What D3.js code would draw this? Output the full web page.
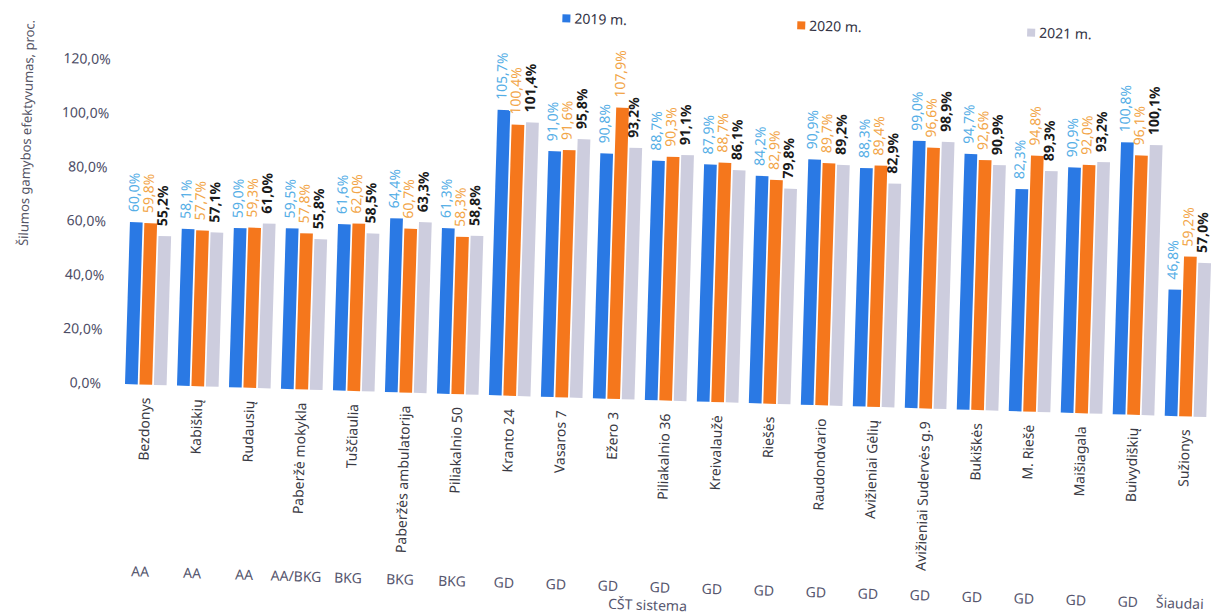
<!DOCTYPE html>
<html>
<head>
<meta charset="utf-8">
<script src="https://cdn.jsdelivr.net/npm/d3@7/dist/d3.min.js"></script>
<style>
  html, body { margin: 0; padding: 0; background: #ffffff; }
  svg { display: block; font-family: "Noto Sans", "Open Sans", sans-serif; }
</style>
</head>
<body>
<svg id="chart" width="1212" height="614"></svg>
<script>
const categories = ["Bezdonys","Kabiškių","Rudausių","Paberžė mokykla","Tuščiaulia","Paberžės ambulatorija","Piliakalnio 50","Kranto 24","Vasaros 7","Ežero 3","Piliakalnio 36","Kreivalaužė","Riešės","Raudondvario","Avižieniai Gėlių","Avižieniai Sudervės g.9","Bukiškės","M. Riešė","Maišiagala","Buivydiškių","Sužionys"];
const systems = ["AA","AA","AA","AA/BKG","BKG","BKG","BKG","GD","GD","GD","GD","GD","GD","GD","GD","GD","GD","GD","GD","GD","Šiaudai"];
const years = ["2019 m.","2020 m.","2021 m."];
const values2019 = [60.0,58.1,59.0,59.5,61.6,64.4,61.3,105.7,91.0,90.8,88.7,87.9,84.2,90.9,88.3,99.0,94.7,82.3,90.9,100.8,46.8];
const values2020 = [59.8,57.7,59.3,57.8,62.0,60.7,58.3,100.4,91.6,107.9,90.3,88.7,82.9,89.7,89.4,96.6,92.6,94.8,92.0,96.1,59.2];
const values2021 = [55.2,57.1,61.0,55.8,58.5,63.3,58.8,101.4,95.8,93.2,91.1,86.1,79.8,89.2,82.9,98.9,90.9,89.3,93.2,100.1,57.0];
const yTicks = [0,20,40,60,80,100,120];
const yTitle = "Šilumos gamybos efektyvumas, proc.";
const xTitle = "CŠT sistema";

const barColors = ["#2a79e4","#f5771c","#cdcdde"];
const labelColors = ["#55aee6","#f2a548","#1a1a1a"];
const series = [values2019, values2020, values2021];

const svg = d3.select("#chart");
// scanned original is slightly rotated clockwise
const g = svg.append("g").attr("transform", "rotate(1.75,125,384)");

const fmt = v => d3.format(".1f")(v).replace(".", ",") + "%";

const y = d3.scaleLinear().domain([0, 120]).range([384, 60]);
const x0 = d3.scaleBand().domain(categories).range([119.8, 1212]).paddingInner(0.2).paddingOuter(0.1);
const x1 = d3.scaleBand().domain(years).range([0, x0.bandwidth()]).paddingInner(0.12);

// y axis (labels only)
const yAxis = d3.axisLeft(y).tickValues(yTicks).tickSize(0).tickPadding(0)
  .tickFormat(d => d3.format(".1f")(d).replace(".", ",") + "%");
const ya = g.append("g").attr("transform", "translate(101,0)").call(yAxis);
ya.select(".domain").remove();
ya.selectAll("text").attr("fill", "#4d4d66").style("font-size", "14px")
  .style("font-family", "'Noto Sans', sans-serif");

// y title
g.append("text")
  .attr("transform", "translate(19,136) rotate(-90)")
  .attr("text-anchor", "middle").attr("dy", "0.35em")
  .attr("fill", "#555566").style("font-size", "13px")
  .text(yTitle);

// bars
const groups = g.selectAll(".grp").data(categories).enter().append("g")
  .attr("class", "grp")
  .attr("transform", d => `translate(${x0(d)},0)`);

years.forEach((yr, si) => {
  groups.append("rect")
    .attr("x", x1(yr))
    .attr("width", x1.bandwidth())
    .attr("y", (d, i) => y(series[si][i]))
    .attr("height", (d, i) => y(0) - y(series[si][i]))
    .attr("fill", barColors[si]);
});

// value labels
years.forEach((yr, si) => {
  groups.append("text")
    .attr("transform", (d, i) => `translate(${x1(yr) + x1.bandwidth() / 2 - 3},${y(series[si][i]) - 10}) rotate(-90)`)
    .attr("dy", "0.35em")
    .attr("text-anchor", "start")
    .attr("fill", labelColors[si])
    .style("font-size", "14px")
    .style("font-weight", si === 2 ? "bold" : "normal")
    .text((d, i) => fmt(series[si][i]));
});

// category labels
groups.append("text")
  .attr("transform", `translate(${x0.bandwidth() / 2},397) rotate(-90)`)
  .attr("dy", "0.35em")
  .attr("text-anchor", "end")
  .attr("fill", "#3a3a44")
  .style("font-size", "14px")
  .text(d => d);

// system labels
groups.append("text")
  .attr("x", x0.bandwidth() / 2)
  .attr("y", 576)
  .attr("text-anchor", "middle")
  .attr("fill", "#56566e")
  .style("font-size", "14px")
  .text((d, i) => systems[i]);

// x title
g.append("text")
  .attr("x", 654).attr("y", 594)
  .attr("text-anchor", "middle")
  .attr("fill", "#56566e")
  .style("font-size", "14px")
  .text(xTitle);

// legend
const legX = [555, 790, 1020];
const leg = g.selectAll(".leg").data(years).enter().append("g")
  .attr("class", "leg")
  .attr("transform", (d, i) => `translate(${legX[i]},5)`);
leg.append("rect").attr("x", -4).attr("y", -4).attr("width", 8).attr("height", 8)
  .attr("fill", (d, i) => barColors[i]);
leg.append("text").attr("x", 8).attr("dy", "0.35em")
  .attr("fill", "#333344").style("font-size", "14px")
  .text(d => d);
</script>
</body>
</html>
